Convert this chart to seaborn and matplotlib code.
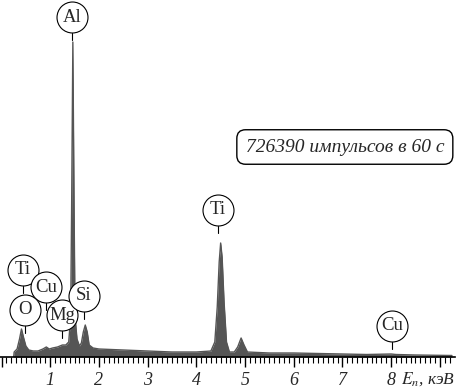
import matplotlib
matplotlib.use('Agg')
import matplotlib.pyplot as plt
import numpy as np
import pandas as pd
import seaborn as sns

# spectrum: energy (keV) and intensity (arbitrary, ~pixels)
energy = [0.25, 0.26, 0.32, 0.37, 0.41, 0.45, 0.50, 0.56, 0.65, 0.75, 0.85, 0.92,
          0.98, 1.05, 1.15, 1.25, 1.32, 1.38, 1.42, 1.44, 1.465, 1.49, 1.51, 1.55,
          1.60, 1.64, 1.68, 1.72, 1.76, 1.80, 1.88, 2.0, 2.5, 3.0, 3.5, 4.0, 4.30,
          4.38, 4.43, 4.47, 4.50, 4.53, 4.57, 4.62, 4.68, 4.78, 4.85, 4.92, 4.98,
          5.05, 5.5, 6.0, 7.0, 7.5, 8.0, 8.1, 8.5, 9.25]
counts = [0, 5, 8, 18, 28, 20, 11, 7, 6, 6, 8, 10,
          8, 9, 10, 12, 12, 15, 40, 150, 315, 150, 40, 18,
          11, 14, 25, 32, 25, 12, 9, 8, 7, 6, 5, 5, 6,
          15, 50, 95, 114, 100, 55, 15, 5, 5, 10, 19, 12,
          5, 4, 4, 3, 2.5, 3, 2.5, 2, 1.5]

# element labels: name, energy of circle centre, height of circle centre
labels = ['Al', 'Ti', 'Cu', 'O', 'Mg', 'Si', 'Ti', 'Cu']
label_x = [1.448, 0.44, 0.914, 0.483, 1.242, 1.694, 4.445, 8.018]
label_y = [340, 87, 70, 47, 42, 61, 147, 31]

tick_labels = ['1', '2', '3', '4', '5', '6', '7', '8']
note = '726390 импульсов в 60 с'

df = pd.DataFrame({'E': energy, 'N': counts})

sns.set_style('white')
plt.rcParams['font.family'] = ['Liberation Serif', 'DejaVu Serif']
plt.rcParams['mathtext.fontset'] = 'stix'

fig = plt.figure(figsize=(4.6, 3.9), dpi=100)
ax = fig.add_axes([0, 33 / 390, 1, 357 / 390])

gray = '#555555'
ax.fill_between(df['E'], 0, df['N'], color=gray, lw=0)
sns.lineplot(data=df, x='E', y='N', ax=ax, color=gray, lw=1.0)

ax.set_xlim(-0.031, 9.415)
ax.set_ylim(0, 357)

for s in ['top', 'right', 'left']:
    ax.spines[s].set_visible(False)
ax.spines['bottom'].set_bounds(-0.03, 9.31)
ax.spines['bottom'].set_linewidth(1.2)
ax.spines['bottom'].set_color('black')

ax.set_xticks(range(0, 10))
ax.set_xticklabels([''] + tick_labels + [''])
ax.set_xticks(np.arange(0, 9.25, 0.1), minor=True)
ax.tick_params(axis='x', which='major', direction='out', length=7, width=1,
               color='black', pad=4, labelsize=13, bottom=True)
ax.tick_params(axis='x', which='minor', direction='out', length=4, width=0.8,
               color='black', bottom=True)
for t in ax.get_xticklabels():
    t.set_fontstyle('italic')
ax.set_yticks([])
ax.set_xlabel('')
ax.set_ylabel('')

ax.text(9.31, -22, '$E_n$, кэВ', fontsize=12.5, fontstyle='italic',
        ha='right', va='center', clip_on=False)

# element circles with short stems
r = 15.5
for name, x, y in zip(labels, label_x, label_y):
    ax.plot([x, x], [y - r, y - r - 7], color='black', lw=0.8, zorder=4)
    ax.plot(x, y, 'o', ms=22.3, mfc='white', mec='black', mew=0.8, zorder=5)
    ax.text(x, y, name, fontsize=13.5, ha='center', va='center', zorder=6)

ax.text(7.05, 210, note, fontsize=14, fontstyle='italic', ha='center', va='center',
        bbox=dict(boxstyle='round,pad=0.45,rounding_size=0.45', fc='white',
                  ec='black', lw=1))

fig.savefig('out.png', dpi=100)
